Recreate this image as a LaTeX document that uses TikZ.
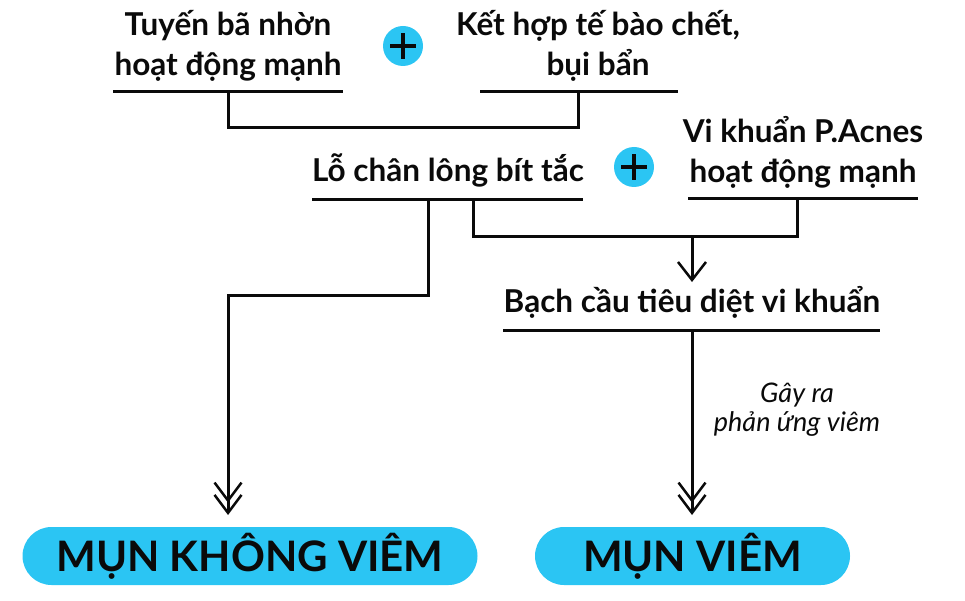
\documentclass[tikz,border=0pt]{standalone}
\usepackage{fontspec}
\setmainfont{Lato}
\usetikzlibrary{arrows.meta}

\definecolor{acnecyan}{HTML}{2BC5F3}
\definecolor{inkblack}{HTML}{0A0A0A}

\tikzset{
  cause/.style={font=\bfseries\fontsize{31.5}{40}\selectfont, align=center, inner sep=0pt, text=inkblack, anchor=base},
  note/.style={font=\itshape\fontsize{27}{29}\selectfont, align=center, inner sep=0pt, text=inkblack, anchor=base},
  bar/.style={line width=3pt, draw=inkblack},
  plusdot/.style={circle, fill=acnecyan, minimum size=40pt, inner sep=0pt,
    path picture={
      \draw[line width=3.5pt, inkblack] ([xshift=-13pt]path picture bounding box.center) -- ([xshift=13pt]path picture bounding box.center);
      \draw[line width=3.5pt, inkblack] ([yshift=-13pt]path picture bounding box.center) -- ([yshift=13pt]path picture bounding box.center);
    }},
  result/.style={rounded corners=29pt, fill=acnecyan, minimum height=58pt, inner sep=0pt, font=\bfseries\fontsize{42}{42}\selectfont, text=inkblack},
  onetip/.style={-{Straight Barb[length=18pt, width=28pt, line width=2.5pt]}},
  twotip/.style={-{Straight Barb[length=18pt, width=27pt, line width=2.5pt, sep=-9pt] Straight Barb[length=18pt, width=27pt, line width=2.5pt]}},
}

\begin{document}
\begin{tikzpicture}[x=1pt, y=-1pt]
  \useasboundingbox (0,0) rectangle (965,601);

  % Causes
  \node[cause] (tuyen) at (228,76) {Tuyến bã nhờn\\hoạt động mạnh};
  \node[cause] (kethop) at (598,76) {Kết hợp tế bào chết,\\bụi bẩn};
  \node[cause] (lochan) at (448,182) {Lỗ chân lông bít tắc};
  \node[cause] (vikhuan) at (803,183) {Vi khuẩn P.Acnes\\hoạt động mạnh};
  \node[cause] (bachcau) at (692,312) {Bạch cầu tiêu diệt vi khuẩn};
  \node[note] (gayra) at (797,431) {Gây ra\\phản ứng viêm};

  % Plus signs
  \node[plusdot] (plus1) at (403,46) {};
  \node[plusdot] (plus2) at (634,167) {};

  % Results
  \node[result, minimum width=455pt] (khongviem) at (250,556) {MỤN KHÔNG VIÊM};
  \node[result, minimum width=315pt] (viem) at (692.5,556) {MỤN VIÊM};

  % Underlines
  \coordinate (u1l) at (113,92);  \coordinate (u1r) at (343,92);
  \coordinate (u2l) at (480,92);  \coordinate (u2r) at (678,92);
  \coordinate (u3l) at (312,200); \coordinate (u3r) at (583,200);
  \coordinate (u4l) at (688,199); \coordinate (u4r) at (918,199);
  \coordinate (u5l) at (503,330); \coordinate (u5r) at (880,330);
  \foreach \u in {1,...,5}
    \draw[bar] (u\u l) -- (u\u r);

  % Joints and arrow ends
  \coordinate (j1) at (228,92);
  \coordinate (j2) at (578,92);
  \coordinate (j3) at (428,200);
  \coordinate (j4) at (473,200);
  \coordinate (j5) at (797,199);
  \coordinate (j6) at (692,237);
  \coordinate (j7) at (692,330);
  \coordinate (t1) at (692,282);
  \coordinate (t2) at (228,515);
  \coordinate (t3) at (692,515);

  % Connections
  \draw[bar] (j1) -- ++(0,36) -| (j2);
  \draw[bar] (j4) -- ++(0,37) -| (j5);
  \draw[bar, onetip] (j6) -- (t1);
  \draw[bar, twotip] (j3) |- (228,295) -- (t2);
  \draw[bar, twotip] (j7) -- (t3);
\end{tikzpicture}
\end{document}
